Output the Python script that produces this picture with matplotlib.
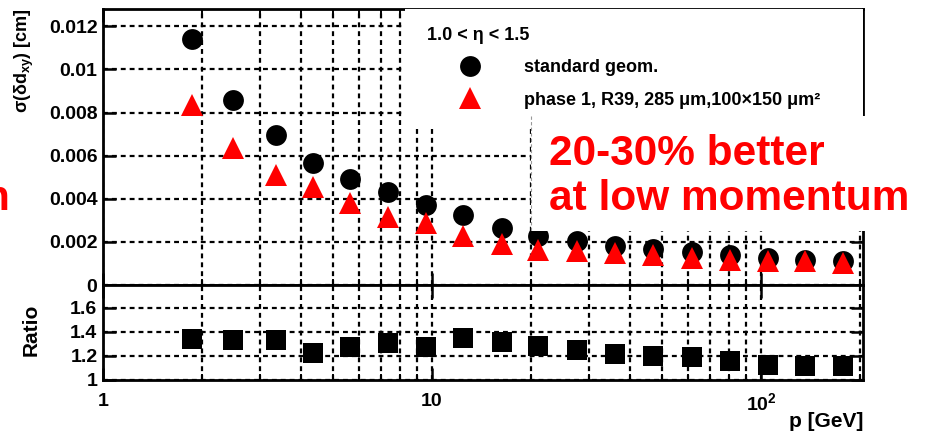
import matplotlib
matplotlib.use("Agg")
import matplotlib.pyplot as plt
from matplotlib.ticker import LogLocator, FixedLocator, NullFormatter
from matplotlib.patches import Rectangle
from matplotlib.lines import Line2D

plt.rcParams['font.family'] = ['Liberation Sans', 'DejaVu Sans']
plt.rcParams['mathtext.fontset'] = 'custom'
plt.rcParams['mathtext.rm'] = 'Liberation Sans'
plt.rcParams['mathtext.it'] = 'Liberation Sans:italic'
plt.rcParams['mathtext.bf'] = 'Liberation Sans:bold'

# momentum bins [GeV]
p = [1.865, 2.48, 3.36, 4.35, 5.63, 7.35, 9.59, 12.4, 16.3, 21.0,
     27.6, 36.0, 47.0, 61.7, 80.5, 105, 136, 177]
# impact parameter resolution [cm]
res_standard = [0.01140, 0.00857, 0.00697, 0.00565, 0.00491, 0.00431, 0.00371,
                0.00324, 0.00264, 0.00227, 0.00206, 0.00183, 0.00165, 0.00151,
                0.00141, 0.00123, 0.00118, 0.00111]
res_phase1 = [0.00834, 0.00635, 0.00510, 0.00454, 0.00380, 0.00315, 0.00287,
              0.00227, 0.00190, 0.00162, 0.00160, 0.00148, 0.00137, 0.00125,
              0.00118, 0.00111, 0.00109, 0.00104]
ratio = [1.342, 1.333, 1.333, 1.228, 1.278, 1.311, 1.278, 1.353, 1.320,
         1.283, 1.250, 1.214, 1.200, 1.189, 1.161, 1.125, 1.120, 1.117]

res_ticks = [0, 0.002, 0.004, 0.006, 0.008, 0.010, 0.012]
res_ticklabels = ["0", "0.002", "0.004", "0.006", "0.008", "0.01", "0.012"]
ratio_ticks = [1.0, 1.2, 1.4, 1.6]
ratio_ticklabels = ["1", "1.2", "1.4", "1.6"]
p_ticks = [1, 10, 100]
p_ticklabels = ["1", "10", r"$\mathbf{10^{2}}$"]

W, H = 926, 433
fig = plt.figure(figsize=(W / 100, H / 100), dpi=100)

def fx(px):
    return px / W

def fy(py):
    return 1 - py / H

left, right = 103, 863
ax1 = fig.add_axes([fx(left), fy(285), (right - left) / W, (285 - 9) / H])
ax2 = fig.add_axes([fx(left), fy(380), (right - left) / W, (380 - 285) / H], sharex=ax1)

grid_kw = dict(color='black', lw=1.6, ls=(0, (2.2, 1.8)))
for ax in (ax1, ax2):
    ax.set_xscale('log')
    ax.set_xlim(1, 204)
    ax.xaxis.set_major_locator(FixedLocator(p_ticks))
    ax.xaxis.set_minor_locator(LogLocator(base=10, subs=range(2, 10)))
    ax.xaxis.set_minor_formatter(NullFormatter())
    ax.grid(True, axis='x', which='both', **grid_kw)
    ax.grid(True, axis='y', which='major', **grid_kw)
    ax.set_axisbelow(True)
    for s in ax.spines.values():
        s.set_linewidth(2.0)
    ax.tick_params(axis='both', which='major', direction='in', length=9, width=1.8,
                   top=True, right=True, labelsize=14, pad=4)
    ax.tick_params(axis='x', which='minor', direction='in', length=4.5, width=1.4,
                   top=True, bottom=True)

# upper panel: resolution
ax1.set_ylim(0, 0.0128)
ax1.set_yticks(res_ticks)
ax1.set_yticklabels(res_ticklabels, fontweight='bold')
ax1.tick_params(axis='x', labelbottom=False)
h_std, = ax1.plot(p, res_standard, 'o', color='black', ms=15, mew=0, zorder=4,
                  label='standard geom.')
h_ph1, = ax1.plot(p, res_phase1, '^', color='#ff0000', ms=16, mew=0, zorder=5,
                  label='phase 1, R39, 285 μm,100×150 μm²')

# white background behind the legend block
ax1.add_patch(Rectangle(((405 - left) / (right - left), (285 - 128) / 276),
                        (right - 405) / (right - left), 1 - (285 - 128) / 276,
                        transform=ax1.transAxes, facecolor='white',
                        edgecolor='none', zorder=3))
leg = ax1.legend(handles=[h_std, h_ph1], title='1.0 < η < 1.5',
                 loc='upper left',
                 bbox_to_anchor=((427 - left) / (right - left), 1 - (27 - 9) / 276),
                 frameon=False, borderpad=0, borderaxespad=0,
                 handlelength=4.8, handletextpad=0.55, labelspacing=0.85,
                 alignment='left', numpoints=1,
                 prop={'size': 13, 'weight': 'bold'},
                 title_fontproperties={'size': 13, 'weight': 'bold'})
leg.set_zorder(6)

# lower panel: ratio
ax2.set_ylim(1.0, 1.79)
ax2.set_yticks(ratio_ticks)
ax2.set_yticklabels(ratio_ticklabels, fontweight='bold')
ax2.set_xticks(p_ticks)
ax2.set_xticklabels(p_ticklabels, fontweight='bold')
ax2.tick_params(axis='x', which='major', pad=9)
ax2.plot(p, ratio, 's', color='black', ms=14, mew=0, zorder=4)

# axis titles
fig.text(fx(24), fy(61), 'σ(δd$_{\\mathbf{xy}}$) [cm]', rotation=90,
         ha='center', va='center', fontsize=13, fontweight='bold')
fig.text(fx(31), fy(330), 'Ratio', rotation=90, ha='center', va='center',
         fontsize=15, fontweight='bold')
fig.text(fx(863), fy(427), 'p [GeV]', ha='right', va='baseline',
         fontsize=15, fontweight='bold')

# annotation box
fig.add_artist(Rectangle((fx(531), fy(231)), (W - 531) / W, (231 - 116) / H,
                         transform=fig.transFigure, facecolor='white',
                         edgecolor='none', zorder=10))
fig.add_artist(Line2D([fx(531), fx(531)], [fy(116), fy(231)],
                      transform=fig.transFigure, color='#999999', lw=0.8,
                      ls=(0, (3, 2)), zorder=11))
red_kw = dict(color='#ff0000', fontsize=30.5, fontweight='bold',
              ha='left', va='baseline', zorder=12)
fig.text(fx(549), fy(165), '20-30% better', **red_kw)
fig.text(fx(549), fy(210), 'at low momentum', **red_kw)
fig.text(fx(9), fy(210), 'n', color='#ff0000', fontsize=30.5, fontweight='bold',
         ha='right', va='baseline', zorder=12)

fig.savefig('out.png', dpi=100)
